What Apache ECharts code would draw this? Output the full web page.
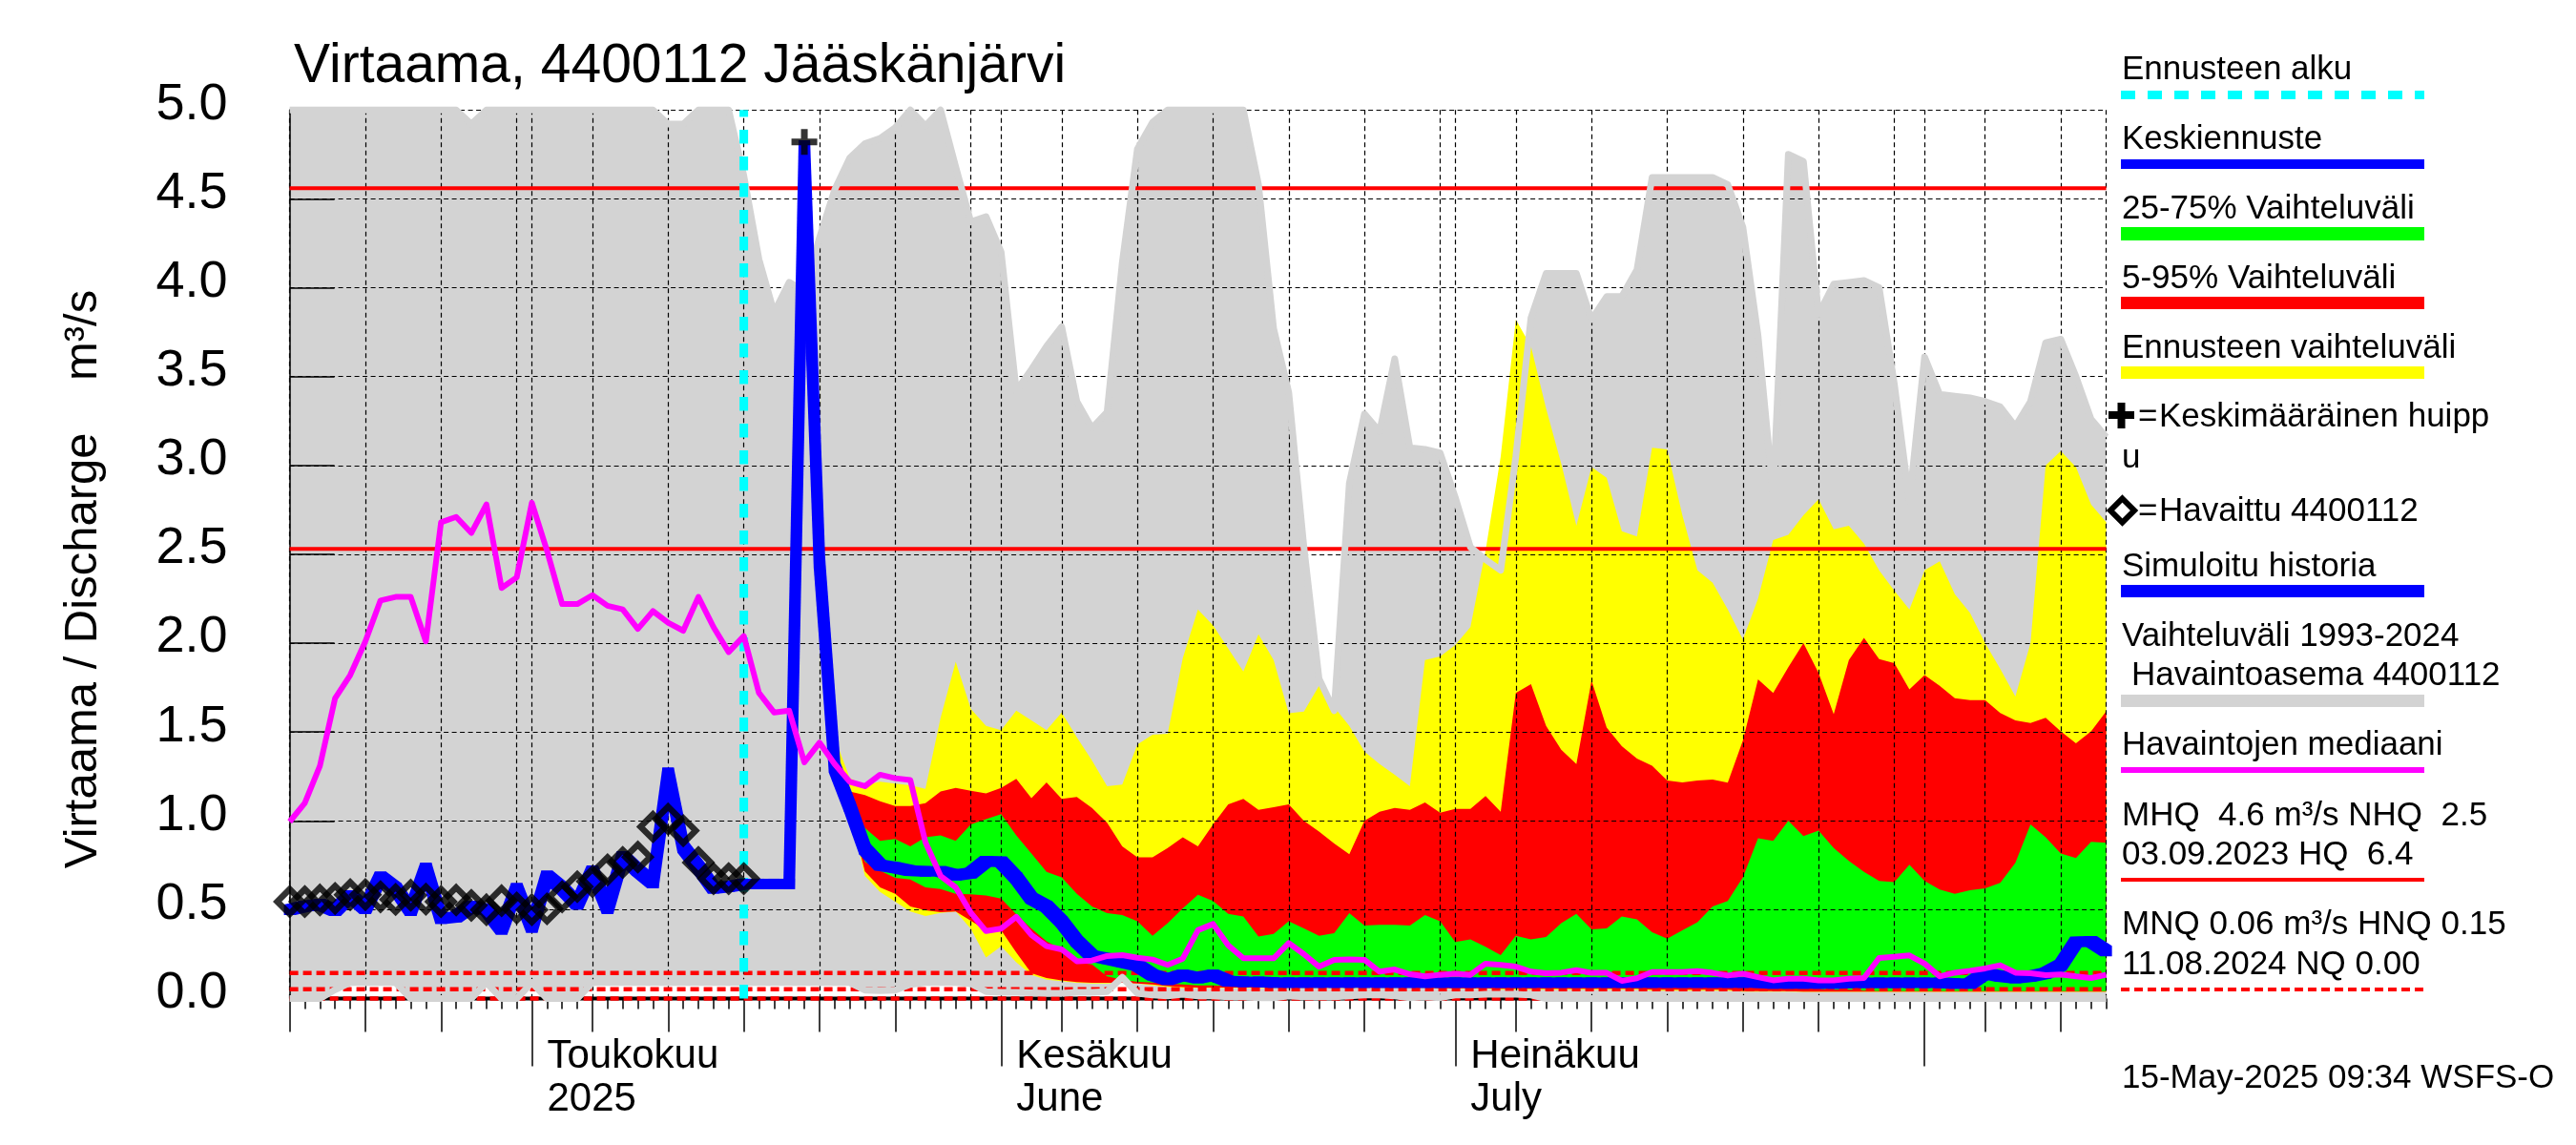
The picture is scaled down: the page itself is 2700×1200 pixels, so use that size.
<!DOCTYPE html>
<html>
<head>
<meta charset="utf-8">
<title>Virtaama 4400112</title>
<script src="https://cdn.jsdelivr.net/npm/echarts@6/dist/echarts.min.js"></script>
<style>
  html, body { margin: 0; padding: 0; background: #fff; }
  #chart { width: 2700px; height: 1200px; }
</style>
</head>
<body>
<div id="chart"></div>
<script>
// values, one value per day from 15 Apr 2025 (index 0) to 13 Aug (index 120)
var grayUpper = [
  5, 5, 5, 5, 5, 5, 5, 5, 5, 5,
  5, 5, 4.92, 5, 5, 5, 5, 5, 5, 5,
  5, 5, 5, 5, 5, 4.92, 4.92, 5, 5, 5,
  4.63, 4.16, 3.86, 4.03, 3.98, 4.28, 4.55, 4.73, 4.81, 4.84,
  4.9, 5, 4.91, 5, 4.68, 4.37, 4.4, 4.2, 3.42, 3.54,
  3.67, 3.78, 3.36, 3.21, 3.3, 4.14, 4.78, 4.93, 5, 5,
  5, 5, 5, 5, 4.58, 3.77, 3.41, 2.54, 1.8, 1.62,
  2.9, 3.29, 3.19, 3.6, 3.1, 3.09, 3.07, 2.82, 2.54, 2.47,
  2.41, 3.05, 3.83, 4.08, 4.08, 4.08, 3.82, 3.95, 3.95, 4.1,
  4.62, 4.62, 4.62, 4.62, 4.62, 4.58, 4.34, 3.73, 2.84, 4.75,
  4.71, 3.85, 4.02, 4.03, 4.04, 4, 3.46, 2.8, 3.61, 3.4,
  3.39, 3.38, 3.36, 3.33, 3.22, 3.36, 3.69, 3.71, 3.5, 3.26, 3.16
];
var grayLower = [
  0, 0, 0, 0.05, 0.09, 0.09, 0.09, 0.09, 0, 0,
  0, 0, 0, 0.09, 0, 0, 0.09, 0, 0, 0,
  0.09, 0.09, 0.09, 0.09, 0.09, 0.09, 0.09, 0.09, 0.09, 0.09,
  0.09, 0.09, 0.09, 0.09, 0.09, 0.09, 0.09, 0.09, 0.048, 0.045,
  0.048, 0.08, 0.09, 0.09, 0.09, 0.084, 0.04, 0.035, 0.035, 0.033,
  0.03, 0.03, 0.035, 0.035, 0.04, 0.12, 0.03, 0.02, 0.015, 0.025,
  0.015, 0.015, 0.01, 0.01, 0.005, 0.005, 0.015, 0.01, 0.01, 0.01,
  0.015, 0.02, 0.02, 0.015, 0.005, 0.01, 0.005, 0.02, 0.02, 0.025,
  0.025, 0.025, 0.02, 0, 0, 0, 0, 0, 0, 0,
  0, 0, 0, 0, 0, 0, 0, 0, 0, 0,
  0, 0, 0, 0, 0, 0, 0, 0, 0, 0,
  0, 0, 0, 0, 0, 0, 0, 0, 0, 0, 0
];
// forecast bands start at index 33
var yellowUpper = [
  0.65, 4.8, 2.45, 1.47, 1.24, 1.2, 1.22,
  1.21, 1.2, 1.18, 1.58, 1.895, 1.63, 1.535, 1.51, 1.62, 1.565,
  1.51, 1.61, 1.47, 1.34, 1.195, 1.205, 1.43, 1.485, 1.49, 1.915,
  2.19, 2.1, 1.97, 1.84, 2.05, 1.905, 1.605, 1.615, 1.76, 1.64,
  1.535, 1.39, 1.32, 1.26, 1.195, 1.905, 1.925, 1.99, 2.09, 2.52,
  3.05, 3.82, 3.67, 3.32, 3.01, 2.66, 2.99, 2.93, 2.63, 2.6,
  3.1, 3.09, 2.72, 2.41, 2.34, 2.19, 2.02, 2.25, 2.58, 2.61,
  2.72, 2.81, 2.64, 2.66, 2.56, 2.41, 2.295, 2.19, 2.41, 2.46,
  2.275, 2.17, 2, 1.855, 1.7, 2, 3, 3.08, 2.99, 2.78, 2.68
];
var yellowLower = [
  0.65, 4.7, 2.4, 1.28, 1.05, 0.69, 0.6,
  0.545, 0.49, 0.465, 0.483, 0.49, 0.393, 0.232, 0.295, 0.205, 0.134,
  0.107, 0.098, 0.089, 0.085, 0.085, 0.089, 0.085, 0.075, 0.065, 0.06,
  0.06, 0.06, 0.06, 0.06, 0.06, 0.06, 0.06, 0.06, 0.06, 0.06,
  0.06, 0.06, 0.06, 0.06, 0.06, 0.06, 0.055, 0.055, 0.055, 0.055,
  0.05, 0.05, 0.05, 0.05, 0.05, 0.05, 0.05, 0.05, 0.05, 0.05,
  0.045, 0.045, 0.045, 0.045, 0.045, 0.045, 0.04, 0.04, 0.04, 0.04,
  0.038, 0.038, 0.038, 0.038, 0.038, 0.038, 0.038, 0.038, 0.038, 0.038,
  0.038, 0.038, 0.038, 0.038, 0.038, 0.038, 0.038, 0.038, 0.038, 0.038, 0.038
];
var redUpper = [
  0.65, 4.75, 2.42, 1.4, 1.165, 1.145, 1.11,
  1.083, 1.083, 1.1, 1.165, 1.185, 1.17, 1.155, 1.185, 1.237, 1.128,
  1.217, 1.124, 1.134, 1.073, 0.99, 0.857, 0.795, 0.795, 0.847, 0.908,
  0.857, 0.98, 1.093, 1.124, 1.062, 1.077, 1.093, 1, 0.94, 0.873,
  0.812, 1, 1.052, 1.073, 1.062, 1.104, 1.046, 1.067, 1.067, 1.14,
  1.052, 1.72, 1.77, 1.535, 1.4, 1.32, 1.79, 1.525, 1.42, 1.35,
  1.31, 1.227, 1.217, 1.227, 1.233, 1.215, 1.453, 1.796, 1.72, 1.864,
  2, 1.833, 1.6, 1.905, 2.03, 1.91, 1.888, 1.74, 1.82, 1.76,
  1.69, 1.68, 1.68, 1.607, 1.566, 1.55, 1.58, 1.504, 1.437, 1.504, 1.617
];
var redLower = [
  0.65, 4.7, 2.4, 1.29, 1.06, 0.716, 0.626,
  0.59, 0.519, 0.497, 0.487, 0.49, 0.438, 0.384, 0.384, 0.259, 0.143,
  0.116, 0.103, 0.093, 0.089, 0.089, 0.089, 0.085, 0.08, 0.07, 0.065,
  0.062, 0.062, 0.062, 0.062, 0.062, 0.062, 0.062, 0.062, 0.062, 0.062,
  0.062, 0.062, 0.062, 0.062, 0.062, 0.062, 0.058, 0.058, 0.058, 0.058,
  0.055, 0.055, 0.055, 0.055, 0.055, 0.055, 0.055, 0.055, 0.055, 0.055,
  0.05, 0.05, 0.05, 0.05, 0.05, 0.05, 0.042, 0.042, 0.042, 0.042,
  0.04, 0.04, 0.04, 0.04, 0.04, 0.04, 0.04, 0.04, 0.04, 0.04,
  0.04, 0.04, 0.04, 0.04, 0.04, 0.04, 0.04, 0.04, 0.04, 0.04, 0.04
];
var greenUpper = [
  0.65, 4.72, 2.42, 1.35, 1.12, 0.96, 0.888,
  0.898, 0.857, 0.908, 0.919, 0.888, 0.98, 1.01, 1.038, 0.919, 0.816,
  0.713, 0.682, 0.59, 0.518, 0.481, 0.47, 0.436, 0.353, 0.425, 0.508,
  0.584, 0.549, 0.477, 0.462, 0.349, 0.364, 0.436, 0.395, 0.353, 0.368,
  0.481, 0.411, 0.415, 0.415, 0.411, 0.47, 0.436, 0.319, 0.333, 0.292,
  0.245, 0.353, 0.333, 0.347, 0.425, 0.477, 0.39, 0.395, 0.462, 0.446,
  0.374, 0.337, 0.384, 0.43, 0.518, 0.549, 0.682, 0.902, 0.888, 1,
  0.914, 0.945, 0.847, 0.775, 0.713, 0.662, 0.656, 0.754, 0.662, 0.614,
  0.59, 0.61, 0.62, 0.651, 0.764, 0.98, 0.908, 0.816, 0.791, 0.882, 0.877
];
var greenLower = [
  0.65, 4.71, 2.41, 1.3, 1.08, 0.77, 0.72,
  0.68, 0.67, 0.626, 0.617, 0.59, 0.587, 0.58, 0.563, 0.474, 0.394,
  0.322, 0.277, 0.205, 0.193, 0.125, 0.107, 0.095, 0.09, 0.085, 0.08,
  0.075, 0.075, 0.07, 0.07, 0.07, 0.07, 0.07, 0.07, 0.07, 0.07,
  0.07, 0.07, 0.07, 0.07, 0.07, 0.07, 0.07, 0.07, 0.07, 0.07,
  0.065, 0.065, 0.065, 0.065, 0.065, 0.065, 0.065, 0.065, 0.065, 0.065,
  0.065, 0.065, 0.065, 0.065, 0.065, 0.065, 0.065, 0.065, 0.065, 0.065,
  0.06, 0.055, 0.05, 0.05, 0.045, 0.042, 0.042, 0.042, 0.042, 0.042,
  0.042, 0.042, 0.042, 0.042, 0.042, 0.042, 0.042, 0.042, 0.042, 0.042, 0.042
];
// index 0..30
var simHistory = [
  0.5, 0.52, 0.53, 0.495, 0.58, 0.505, 0.685, 0.62, 0.495, 0.735,
  0.45, 0.46, 0.52, 0.5, 0.39, 0.62, 0.4, 0.69, 0.62, 0.53,
  0.72, 0.505, 0.8, 0.72, 0.65, 1.27, 0.85, 0.74, 0.62, 0.63,
  0.645
];
var observed = [
  0.546, 0.546, 0.555, 0.564, 0.585, 0.585, 0.573, 0.558, 0.582, 0.56,
  0.546, 0.555, 0.525, 0.5, 0.551, 0.51, 0.5, 0.505, 0.573, 0.63,
  0.659, 0.725, 0.766, 0.797, 0.967, 1.01, 0.945, 0.766, 0.675, 0.675,
  0.675
];
// index 30..120
var forecastMean = [
  0.645, 0.645, 0.645, 0.645, 4.8, 2.45, 1.3, 1.08, 0.84, 0.751,
  0.737, 0.72, 0.716, 0.716, 0.694, 0.707, 0.773, 0.77, 0.68, 0.564,
  0.518, 0.433, 0.322, 0.241, 0.224, 0.206, 0.187, 0.134, 0.107, 0.134,
  0.116, 0.134, 0.098, 0.094, 0.094, 0.09, 0.09, 0.09, 0.09, 0.09,
  0.09, 0.09, 0.09, 0.09, 0.09, 0.09, 0.09, 0.09, 0.09, 0.09,
  0.09, 0.09, 0.09, 0.09, 0.09, 0.09, 0.09, 0.09, 0.09, 0.09,
  0.09, 0.09, 0.09, 0.09, 0.09, 0.09, 0.09, 0.09, 0.085, 0.085,
  0.085, 0.085, 0.085, 0.089, 0.089, 0.089, 0.089, 0.089, 0.089, 0.089, 0.085, 0.085,
  0.143, 0.125, 0.116, 0.125, 0.143, 0.188, 0.318, 0.322, 0.268
];
var median = [
  0.995, 1.1, 1.31, 1.69, 1.82, 2.01, 2.24, 2.26, 2.26, 2.01,
  2.68, 2.71, 2.62, 2.78, 2.31, 2.37, 2.79, 2.52, 2.22, 2.22,
  2.27, 2.21, 2.19, 2.08, 2.18, 2.115, 2.07, 2.26, 2.09, 1.95,
  2.04, 1.72, 1.61, 1.62, 1.33, 1.44, 1.32, 1.22, 1.195, 1.26,
  1.24, 1.23, 0.88, 0.69, 0.626, 0.483, 0.38, 0.394, 0.46, 0.358,
  0.295, 0.277, 0.21, 0.214, 0.24, 0.245, 0.23, 0.22, 0.19, 0.225,
  0.385, 0.42, 0.3, 0.227, 0.227, 0.227, 0.313, 0.25, 0.18, 0.218,
  0.22, 0.218, 0.152, 0.164, 0.137, 0.125, 0.134, 0.14, 0.134, 0.197,
  0.19, 0.18, 0.152, 0.143, 0.146, 0.16, 0.145, 0.145, 0.1, 0.115,
  0.15, 0.15, 0.15, 0.155, 0.145, 0.13, 0.14, 0.121, 0.103, 0.112,
  0.112, 0.103, 0.103, 0.112, 0.116, 0.229, 0.236, 0.243, 0.197, 0.125,
  0.146, 0.157, 0.17, 0.188, 0.146, 0.143, 0.132, 0.136, 0.125, 0.116, 0.134
];
var peakIndex = 34, peakValue = 4.82;
var forecastStartIndex = 30;
var bandStartIndex = 33;
var MHQ = 4.56, NHQ = 2.53, HNQ = 0.144, MNQ = 0.053, NQ = 0;

var yTicks = [0, 0.5, 1, 1.5, 2, 2.5, 3, 3.5, 4, 4.5, 5];
var monthLabels = { 5: 'Toukokuu\n2025', 6: 'Kes\u00e4kuu\nJune', 7: 'Hein\u00e4kuu\nJuly' };
var legendLabels = [
  'Ennusteen alku', 'Keskiennuste', '25-75% Vaihteluv\u00e4li', '5-95% Vaihteluv\u00e4li',
  'Ennusteen vaihteluv\u00e4li', 'u', 'Simuloitu historia', 'Vaihteluv\u00e4li 1993-2024',
  'Havaintojen mediaani', 'MHQ  4.6 m\u00b3/s NHQ  2.5', '03.09.2023 HQ  6.4',
  'MNQ 0.06 m\u00b3/s HNQ 0.15', '11.08.2024 NQ 0.00', '15-May-2025 09:34 WSFS-O'
];
var legendBaselines = [82, 155, 228, 301, 374, 489, 603, 676, 790, 864, 905, 978, 1020, 1139];

// dates for the axis
var days = [];
for (var d = 0; d <= 120; d++) {
  var dt = new Date(Date.UTC(2025, 3, 15 + d));
  days.push(dt.toISOString().slice(0, 10));
}
function dayOf(s) { return parseInt(s.slice(8), 10); }
function monthOf(s) { return parseInt(s.slice(5, 7), 10); }

function pad(arr, start) {
  var out = [];
  for (var i = 0; i < start; i++) out.push(null);
  return out.concat(arr);
}

var FONT = '"Liberation Sans", Arial, sans-serif';
var GRAY = '#d3d3d3';

// a filled range: invisible lower line plus stacked difference
function band(name, lower, upper, start, color, z) {
  var diff = upper.map(function (v, i) { return +(v - lower[i]).toFixed(3); });
  var common = { type: 'line', stack: name, showSymbol: false, silent: true, z: z, lineStyle: { width: 0 } };
  return [
    Object.assign({}, common, { name: name + ' low', data: pad(lower, start) }),
    Object.assign({}, common, {
      name: name, data: pad(diff, start),
      areaStyle: { color: color, opacity: 1 }
    })
  ];
}

function line(name, data, color, width, z, dash) {
  return {
    name: name, type: 'line', data: data, showSymbol: false, silent: true, z: z, clip: false,
    lineStyle: { color: color, width: width, type: dash || 'solid', cap: 'butt', join: 'round' }
  };
}

function hline(name, value, color, width, z, dash) {
  return line(name, [[days[0], value], [days[120], value]], color, width, z, dash);
}

// the blue lines are drawn with a rectangular pen, so steep parts are wider than flat ones
var PEN_W = 6, PEN_H = 5.5;
function penLine(name, values, start, color, z) {
  var segs = [];
  for (var k = 0; k < values.length - 1; k++) segs.push([start + k, values[k]]);
  return {
    name: name, type: 'custom', data: segs, z: z, silent: true, encode: { x: 0, y: 1 },
    renderItem: function (params, api) {
      var k = params.dataIndex;
      var a = api.coord([start + k, values[k]]);
      var b = api.coord([start + k + 1, values[k + 1]]);
      var pts;
      if (b[1] < a[1]) {
        pts = [[a[0] - PEN_W, a[1] + PEN_H], [a[0] - PEN_W, a[1] - PEN_H], [b[0] - PEN_W, b[1] - PEN_H],
          [b[0] + PEN_W, b[1] - PEN_H], [b[0] + PEN_W, b[1] + PEN_H], [a[0] + PEN_W, a[1] + PEN_H]];
      } else {
        pts = [[a[0] - PEN_W, a[1] + PEN_H], [a[0] - PEN_W, a[1] - PEN_H], [a[0] + PEN_W, a[1] - PEN_H],
          [b[0] + PEN_W, b[1] - PEN_H], [b[0] + PEN_W, b[1] + PEN_H], [b[0] - PEN_W, b[1] + PEN_H]];
      }
      return { type: 'polygon', shape: { points: pts }, style: { fill: color } };
    }
  };
}

var series = []
  .concat(band('Vaihteluvali', grayLower, grayUpper, 0, GRAY, 1))
  .concat(band('Ennuste', yellowLower, yellowUpper, bandStartIndex, '#ffff00', 2))
  .concat(band('5-95', redLower, redUpper, bandStartIndex, '#ff0000', 3))
  .concat(band('25-75', greenLower, greenUpper, bandStartIndex, '#00ff00', 4))
  .concat([
    hline('MHQ', MHQ, '#ff0000', 4, 6),
    hline('NHQ', NHQ, '#ff0000', 4, 6),
    hline('HNQ', HNQ, '#ff0000', 4.5, 6, [9, 5]),
    hline('MNQ', MNQ, '#ff0000', 4.5, 6, [9, 5]),
    hline('base', NQ, '#000000', 4, 6),
    hline('NQ', NQ, '#ff0000', 4.5, 6, [9, 5]),
    line('gray top', grayUpper, GRAY, 7, 7),
    line('gray bottom', grayLower, GRAY, 7, 7),
    line('Ennusteen alku', [[days[forecastStartIndex], 0], [days[forecastStartIndex], 5]], '#00ffff', 9, 8, [14.6, 13.4]),
    penLine('Simuloitu historia', simHistory, 0, '#0000ff', 9),
    penLine('Keskiennuste', forecastMean, forecastStartIndex, '#0000ff', 9),
    line('Havaintojen mediaani', median, '#ff00ff', 6, 10),
    {
      name: 'Havaittu', type: 'scatter', data: observed, symbol: 'diamond', symbolSize: 26, z: 11, clip: false, silent: true,
      itemStyle: { color: 'rgba(0,0,0,0)', borderColor: '#000', borderWidth: 6.5, borderJoin: 'miter' }
    },
    {
      name: 'Keskimaarainen huippu', type: 'scatter', data: [[days[peakIndex], peakValue]], z: 12, clip: false, silent: true,
      symbol: 'path://M10,0h7v10h10v7h-10v10h-7v-10h-10v-7h10z', symbolSize: 27,
      itemStyle: { color: '#000' }
    }
  ]);

function gridDay(index, value) {
  var dd = dayOf(value);
  return dd % 5 === 0 || dd === 1 || index === 120;
}
function midTick(index, value) {
  var dd = dayOf(value);
  return dd % 5 === 0 && dd !== 30 && index !== 120;
}
function monthTick(index, value) { return dayOf(value) === 1; }
function labelled(index, value) { return dayOf(value) === 1 && !!monthLabels[monthOf(value)]; }

function xAxisBase() {
  return {
    type: 'category', data: days, boundaryGap: false, position: 'bottom', offset: 4, z: 5,
    axisLine: { show: false }, splitLine: { show: false }, axisLabel: { show: false }
  };
}

// legend and other free text
function label(text, x, baseline, size) {
  size = size || 35;
  return {
    type: 'text', x: x, y: baseline + 3 - size * 0.3465, z: 20,
    style: { text: text, font: size + 'px ' + FONT, fill: '#000', verticalAlign: 'middle', align: 'left' }
  };
}
function swatch(y, h, color) {
  return { type: 'rect', z: 20, shape: { x: 2223, y: y, width: 318, height: h }, style: { fill: color } };
}
function dashSwatch(y, h, color, dash) {
  return { type: 'line', z: 20, shape: { x1: 2223, y1: y, x2: 2541, y2: y }, style: { stroke: color, lineWidth: h, lineDash: dash } };
}

var LX = 2224;
var graphics = legendLabels.map(function (t, i) { return label(t, LX, legendBaselines[i]); });
graphics.push(
  label('=', 2241, 446),
  label('Keskim\u00e4\u00e4r\u00e4inen huipp', 2263, 446),
  label('=', 2241, 545),
  label('Havaittu 4400112', 2263, 545),
  label('Havaintoasema 4400112', 2234, 717),
  dashSwatch(99.5, 9, '#00ffff', [15, 13]),
  swatch(167, 10, '#0000ff'),
  swatch(238, 14, '#00ff00'),
  swatch(311, 13, '#ff0000'),
  swatch(384, 13, '#ffff00'),
  swatch(613, 13, '#0000ff'),
  swatch(728, 13, GRAY),
  swatch(804, 6, '#ff00ff'),
  swatch(920, 4, '#ff0000'),
  dashSwatch(1037, 4, '#ff0000', [9, 5]),
  { type: 'rect', z: 20, shape: { x: 2210, y: 431, width: 27, height: 8 }, style: { fill: '#000' } },
  { type: 'rect', z: 20, shape: { x: 2219.5, y: 422, width: 8, height: 27 }, style: { fill: '#000' } },
  {
    type: 'polygon', z: 20,
    shape: { points: [[2224.5, 522.5], [2237, 535], [2224.5, 547.5], [2212, 535]] },
    style: { fill: '#fff', stroke: '#000', lineWidth: 6, lineJoin: 'miter' }
  },
  {
    type: 'text', x: 87, y: 607, rotation: Math.PI / 2, z: 20,
    style: {
      text: 'Virtaama / Discharge    m\u00b3/s', font: '49px ' + FONT, fill: '#000',
      align: 'center', verticalAlign: 'middle'
    }
  }
);

var chart = echarts.init(document.getElementById('chart'), null, { renderer: 'canvas', devicePixelRatio: 1 });
chart.setOption({
  animation: false,
  backgroundColor: '#fff',
  title: {
    text: 'Virtaama, 4400112 J\u00e4\u00e4sk\u00e4nj\u00e4rvi', left: 303, top: 37,
    textStyle: { fontFamily: FONT, fontSize: 57, fontWeight: 'normal', color: '#000' }
  },
  grid: { left: 303.6, right: 492.4, top: 115.2, bottom: 153.4, containLabel: false, outerBoundsMode: 'none' },
  xAxis: [
    Object.assign(xAxisBase(), {
      axisTick: { show: true, interval: 0, length: 11, lineStyle: { color: '#000', width: 1.5 } },
      splitLine: {
        show: true, interval: gridDay,
        lineStyle: { color: '#000', width: 1.2, type: [5, 3.5] }
      }
    }),
    Object.assign(xAxisBase(), {
      axisTick: { show: true, interval: midTick, length: 31, lineStyle: { color: '#000', width: 1.5 } }
    }),
    Object.assign(xAxisBase(), {
      axisTick: { show: true, interval: monthTick, length: 67, lineStyle: { color: '#000', width: 1.5 } },
      axisLabel: {
        show: true, interval: labelled, margin: 34, align: 'left', padding: [0, 0, 0, 16],
        fontFamily: FONT, fontSize: 42, lineHeight: 45, color: '#000',
        formatter: function (value) { return monthLabels[monthOf(value)] || ''; }
      }
    })
  ],
  yAxis: {
    type: 'value', min: yTicks[0], max: yTicks[yTicks.length - 1], interval: 0.5, z: 5,
    axisLine: { show: true, lineStyle: { color: '#000', width: 1.5 } },
    axisTick: { show: true, inside: true, length: 47, lineStyle: { color: '#000', width: 1.5 } },
    axisLabel: {
      // labels sit a little above their tick in the original
      margin: 65, fontFamily: FONT, fontSize: 54, color: '#000', verticalAlign: 'bottom', lineHeight: 11,
      formatter: function (v) { return v.toFixed(1); }
    },
    splitLine: { show: true, lineStyle: { color: '#000', width: 1.2, type: [5, 3.5] } }
  },
  series: series,
  graphic: graphics
});
</script>
</body>
</html>
